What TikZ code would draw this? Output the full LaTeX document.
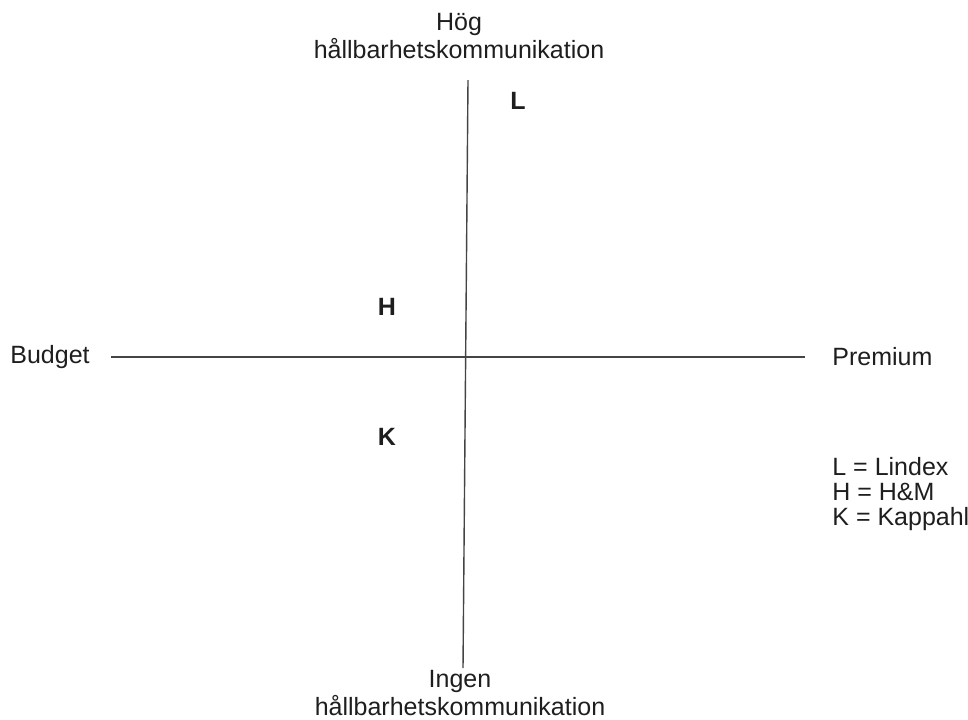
\documentclass[tikz,border=0pt]{standalone}
\usepackage{fontspec}
\setmainfont{Liberation Sans}
\usepackage{tikz}
\usepackage{xcolor}
\usetikzlibrary{positioning}
\definecolor{axisgray}{HTML}{444444}
\definecolor{labelink}{HTML}{1E1E1E}
\tikzset{
  axislabel/.style={
    align=center,
    inner sep=0pt,
    text=labelink,
    font=\fontsize{12.5}{14}\selectfont
  },
  brandmark/.style={
    inner sep=0pt,
    text=labelink,
    font=\fontsize{12.5}{14}\selectfont\bfseries
  },
  legendbox/.style={
    align=left,
    inner sep=0pt,
    text=labelink,
    font=\fontsize{12.5}{12.5}\selectfont
  },
  axisline/.style={draw=axisgray, line width=0.7pt}
}

\begin{document}
\begin{tikzpicture}[x=0.5pt, y=-0.5pt]
\useasboundingbox (0,0) rectangle (968,719);

\coordinate (west) at (111,357);
\coordinate (east) at (805,357);
\coordinate (north) at (468,80);
\coordinate (south) at (463,668);

\node[axislabel] (hog) at (459,36) {Hög\\hållbarhetskommunikation};
\node[axislabel] (ingen) at (460,693) {Ingen\\hållbarhetskommunikation};
\node[axislabel, anchor=west] (budget) at (10,357) {Budget};
\node[axislabel, anchor=west] (premium) at (832,357) {Premium};

\node[brandmark] (lindex) at (518,101) {L};
\node[brandmark] (hm) at (387,307) {H};
\node[brandmark] (kappahl) at (387,437) {K};

\node[legendbox, anchor=west] (legend) at (832,494) {L = Lindex\\H = H\&M\\K = Kappahl};

\draw[axisline] (west) -- (east);
\draw[axisline] (north) -- (south);
\end{tikzpicture}
\end{document}
